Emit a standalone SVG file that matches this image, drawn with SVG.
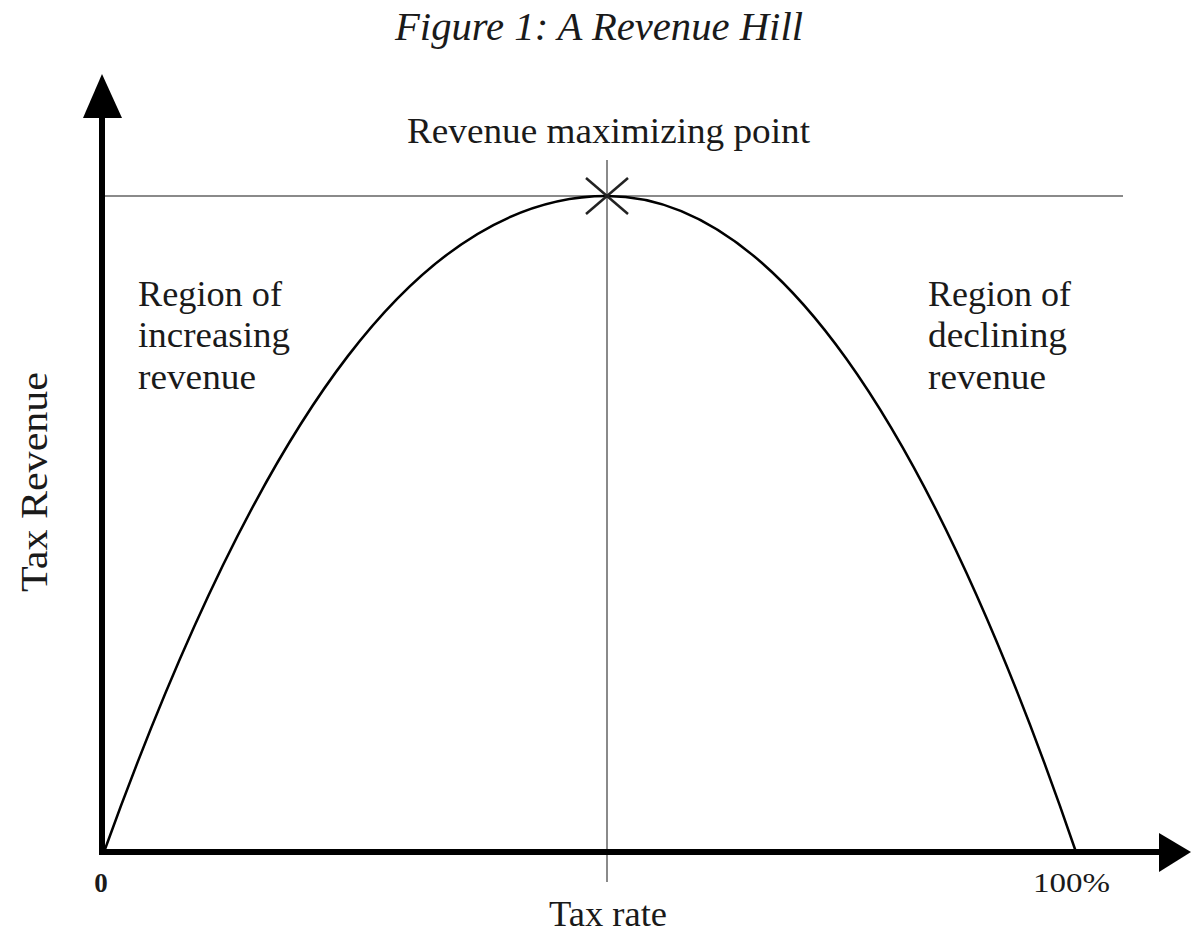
<svg xmlns="http://www.w3.org/2000/svg" width="1191" height="934" viewBox="0 0 1191 934">
<style>
text{font-family:"Liberation Serif","Times New Roman",serif;fill:#1a1a1a}
.lbl{font-size:35px}
.guide{stroke:#8a8a8a;stroke-width:2;fill:none}
.axis{stroke:#000;stroke-width:6;fill:none}
.curve{stroke:#000;stroke-width:2.5;fill:none}
</style>
<rect width="1191" height="934" fill="#fff"/>
<text id="title" x="395" y="40" font-size="40" font-style="italic" textLength="408" lengthAdjust="spacingAndGlyphs">Figure 1: A Revenue Hill</text>
<g id="guides">
<line class="guide" x1="104" y1="196" x2="1123" y2="196"/>
<line class="guide" x1="607" y1="160" x2="607" y2="882"/>
</g>
<g id="curve">
<path class="curve" d="M104,852 C265,405 425,196 607,196 C770,196 925,410 1076,852"/>
</g>
<g id="axes">
<line class="axis" x1="102" y1="115" x2="102" y2="855"/>
<line class="axis" x1="99" y1="852" x2="1162" y2="852"/>
<polygon points="102,74 122,118 83,118" fill="#000"/>
<polygon points="1191,852 1159,833 1159,872" fill="#000"/>
</g>
<g id="max-point">
<line x1="586" y1="178" x2="628" y2="214" stroke="#222" stroke-width="2.5"/>
<line x1="628" y1="178" x2="586" y2="214" stroke="#222" stroke-width="2.5"/>
<text class="lbl" x="407" y="143" textLength="403" lengthAdjust="spacingAndGlyphs">Revenue maximizing point</text>
</g>
<g id="region-increasing">
<text class="lbl" x="138" y="306" textLength="144" lengthAdjust="spacingAndGlyphs">Region of</text>
<text class="lbl" x="138" y="347" textLength="152" lengthAdjust="spacingAndGlyphs">increasing</text>
<text class="lbl" x="138" y="389" textLength="118" lengthAdjust="spacingAndGlyphs">revenue</text>
</g>
<g id="region-declining">
<text class="lbl" x="928" y="306" textLength="143" lengthAdjust="spacingAndGlyphs">Region of</text>
<text class="lbl" x="928" y="347" textLength="139" lengthAdjust="spacingAndGlyphs">declining</text>
<text class="lbl" x="928" y="389" textLength="118" lengthAdjust="spacingAndGlyphs">revenue</text>
</g>
<text id="y-label" font-size="38" transform="translate(47,592) rotate(-90)" textLength="220" lengthAdjust="spacingAndGlyphs">Tax Revenue</text>
<text id="x-label" class="lbl" x="549" y="926" textLength="118" lengthAdjust="spacingAndGlyphs">Tax rate</text>
<text id="zero" x="101" y="892" text-anchor="middle" font-size="27" font-weight="bold">0</text>
<text id="hundred" x="1033" y="892" font-size="28" textLength="77" lengthAdjust="spacingAndGlyphs">100%</text>
</svg>
